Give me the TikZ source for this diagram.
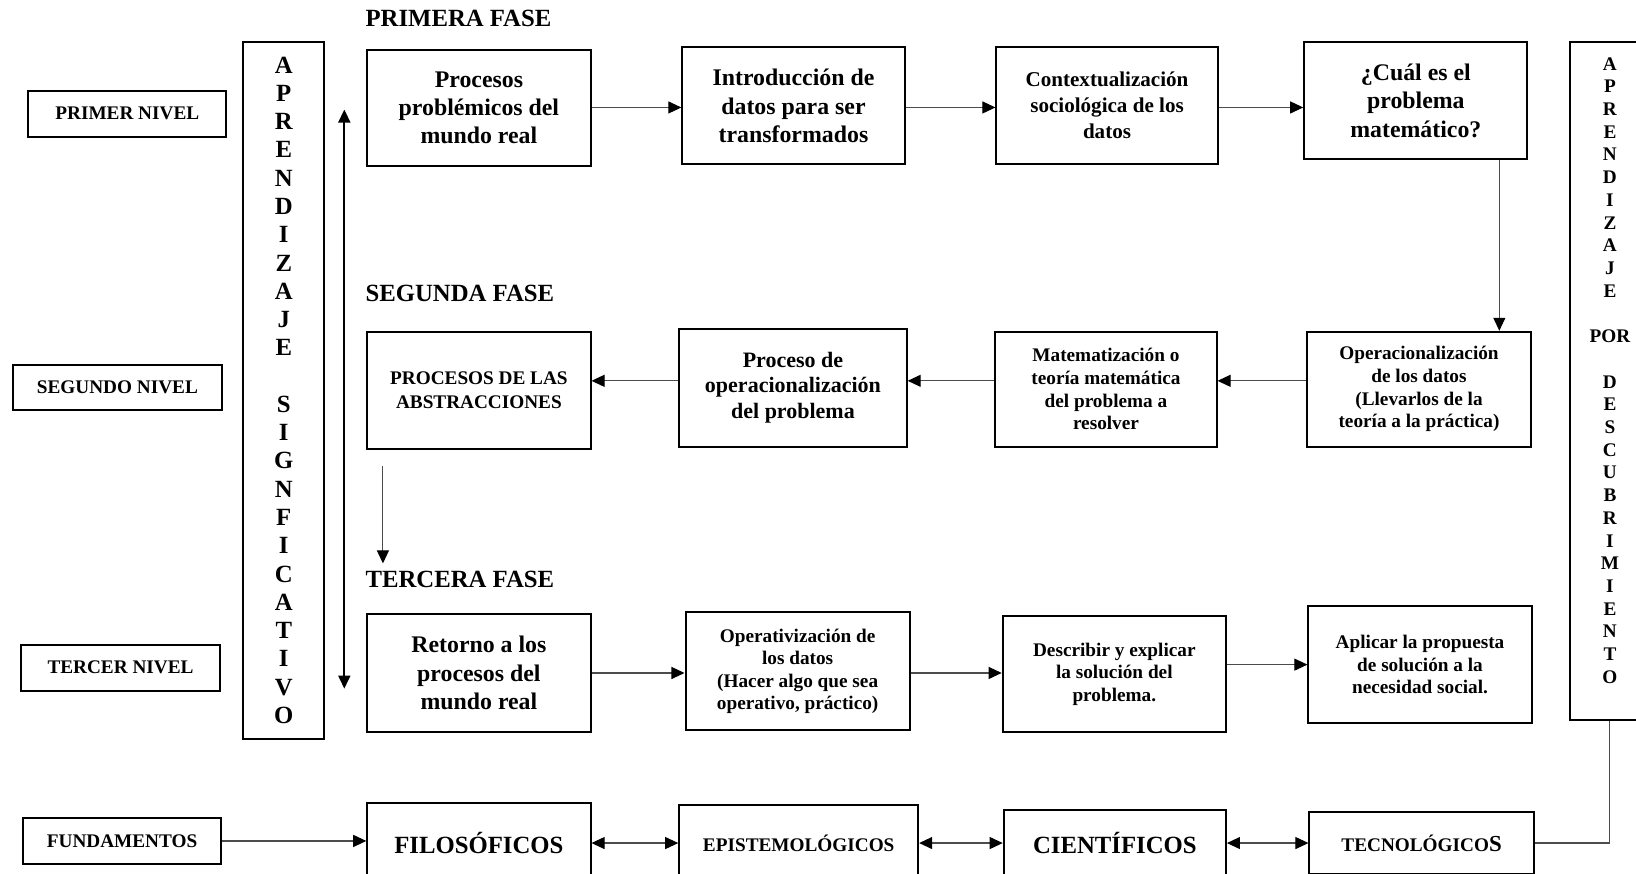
\documentclass[tikz,border=0pt]{standalone}
\usepackage{fontspec}
\setmainfont{Liberation Serif}
\usetikzlibrary{arrows.meta}

\begin{document}
\begin{tikzpicture}[x=0.02cm,y=-0.02cm,
  caja/.style={draw,line width=1.1pt,align=center,inner sep=2pt,minimum width=4.28cm,minimum height=2.24cm},
  grande/.style={font=\bfseries\fontsize{13}{15.4}\selectfont},
  medio/.style={font=\bfseries\fontsize{11.5}{14}\selectfont},
  chico/.style={font=\bfseries\fontsize{10.5}{12.3}\selectfont},
  nivel/.style={caja,minimum width=3.8cm,minimum height=0.88cm,chico},
  fase/.style={anchor=west,inner sep=0pt,font=\bfseries\fontsize{13.5}{16}\selectfont},
  barra/.style={draw,line width=1.1pt,minimum width=1.56cm},
  flecha/.style={-{Triangle[length=2.5mm,width=2.3mm,color=black]},line width=0.6pt,draw=black!70},
  doble/.style={{Triangle[length=2.5mm,width=2.3mm,color=black]}-{Triangle[length=2.5mm,width=2.3mm,color=black]},line width=0.6pt,draw=black!70},
  linea/.style={line width=0.6pt,draw=black!70}]
\useasboundingbox (0,0) rectangle (1568,837);

% niveles
\node[nivel] (primerNivel) at (122,109) {PRIMER NIVEL};
\node[nivel,minimum width=4.02cm,minimum height=0.86cm] (segundoNivel) at (112.5,371.5) {SEGUNDO NIVEL};
\node[nivel,minimum width=3.82cm] (tercerNivel) at (115.5,640) {TERCER NIVEL};
\node[nivel] (fundamentos) at (117,806) {FUNDAMENTOS};

% barras laterales
\node[barra,minimum height=13.36cm,align=center,font=\bfseries\fontsize{13.5}{15.42}\selectfont] (aprSig) at (272,374)
  {A\\P\\R\\E\\N\\D\\I\\Z\\A\\J\\E\\[15.42pt]S\\I\\G\\N\\F\\I\\C\\A\\T\\I\\V\\O};
\node[barra,minimum width=1.52cm,minimum height=13cm] (porDesc) at (1543,365) {};
\node[align=center,font=\bfseries\fontsize{10.5}{12.39}\selectfont] (porDescTxt) at (1543,355)
  {A\\P\\R\\E\\N\\D\\I\\Z\\A\\J\\E\\[12.39pt]POR\\[12.39pt]D\\E\\S\\C\\U\\B\\R\\I\\M\\I\\E\\N\\T\\O};

% fases
\node[fase] (fase1) at (350,18) {PRIMERA FASE};
\node[fase] (fase2) at (350,281) {SEGUNDA FASE};
\node[fase] (fase3) at (350,555) {TERCERA FASE};

% primera fase
\node[caja,grande] (problemicos) at (459,103.5) {Procesos\\problémicos del\\mundo real};
\node[caja,grande,minimum width=4.26cm] (introduccion) at (760.5,101.5) {Introducción de\\datos para ser\\transformados};
\node[caja,medio,minimum width=4.24cm] (contexto) at (1061,101) {Contextualización\\sociológica de los\\datos};
\node[caja,grande] (cual) at (1357,96.5) {¿Cuál es el\\problema\\matemático?};

% segunda fase
\node[caja,chico,minimum height=2.2cm] (operDatos) at (1360,373) {Operacionalización\\de los datos\\(Llevarlos de la\\teoría a la práctica)};
\node[caja,chico,minimum width=4.24cm,minimum height=2.2cm] (matematiz) at (1060,373) {Matematización o\\teoría matemática\\del problema a\\resolver};
\node[caja,font=\bfseries\fontsize{12}{13.7}\selectfont,minimum width=4.36cm,minimum height=2.26cm] (operProb) at (760,371.5) {Proceso de\\operacionalización\\del problema};
\node[caja,font=\bfseries\fontsize{10.5}{13}\selectfont] (abstracciones) at (459,374) {PROCESOS DE LAS\\ABSTRACCIONES};

% tercera fase
\node[caja,grande,minimum height=2.28cm] (retorno) at (459,645) {Retorno a los\\procesos del\\mundo real};
\node[caja,chico,minimum width=4.3cm,minimum height=2.26cm] (operativ) at (764.5,643.5) {Operativización de\\los datos\\(Hacer algo que sea\\operativo, práctico)};
\node[caja,chico] (describir) at (1068,646) {Describir y explicar\\la solución del\\problema.};
\node[caja,chico] (aplicar) at (1361,637) {Aplicar la propuesta\\de solución a la\\necesidad social.};

% fundamentos
\node[caja,font=\bfseries\fontsize{13.5}{16}\selectfont,minimum height=1.52cm] (filosoficos) at (459,808) {FILOSÓFICOS};
\node[caja,chico,minimum width=4.58cm,minimum height=1.44cm] (epistemo) at (765.5,808) {EPISTEMOLÓGICOS};
\node[caja,font=\bfseries\fontsize{13.5}{16}\selectfont,minimum width=4.26cm,minimum height=1.26cm] (cientificos) at (1068.5,808) {CIENTÍFICOS};
\node[caja,chico,minimum width=4.3cm,minimum height=1.2cm] (tecnologicos) at (1362.5,808) {TECNOLÓGICO{\fontsize{12.5}{14}\selectfont S}};

% niveles de las flechas
\coordinate (f1) at (0,103);
\coordinate (f2) at (0,365);
\coordinate (f3) at (0,645);
\coordinate (f3b) at (0,637);
\coordinate (f4) at (0,808);
\coordinate (f4a) at (0,806);
\coordinate (b4pie) at (1437,0);
\coordinate (dobArr) at (330,105);
\coordinate (dobAba) at (330,660);
\coordinate (bajaIni) at (367,447);
\coordinate (bajaFin) at (367,540);

\draw[doble,line width=1pt,draw=black] (dobArr) -- (dobAba);

\draw[flecha] (problemicos.east |- f1) -- (introduccion.west |- f1);
\draw[flecha] (introduccion.east |- f1) -- (contexto.west |- f1);
\draw[flecha] (contexto.east |- f1) -- (cual.west |- f1);
\draw[flecha] (cual.south -| b4pie) -- (operDatos.north -| b4pie);

\draw[flecha] (operDatos.west |- f2) -- (matematiz.east |- f2);
\draw[flecha] (matematiz.west |- f2) -- (operProb.east |- f2);
\draw[flecha] (operProb.west |- f2) -- (abstracciones.east |- f2);
\draw[flecha] (bajaIni) -- (bajaFin);

\draw[flecha] (retorno.east |- f3) -- (operativ.west |- f3);
\draw[flecha] (operativ.east |- f3) -- (describir.west |- f3);
\draw[flecha] (describir.east |- f3b) -- (aplicar.west |- f3b);

\draw[flecha] (fundamentos.east |- f4a) -- (filosoficos.west |- f4a);
\draw[doble] (filosoficos.east |- f4) -- (epistemo.west |- f4);
\draw[doble] (epistemo.east |- f4) -- (cientificos.west |- f4);
\draw[doble] (cientificos.east |- f4) -- (tecnologicos.west |- f4);
\draw[linea] (tecnologicos.east) -| (porDesc.south);
\end{tikzpicture}
\end{document}
